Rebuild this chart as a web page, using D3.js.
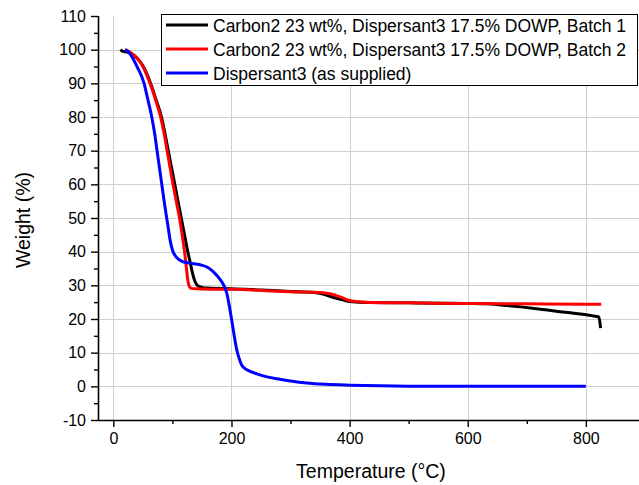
<!DOCTYPE html>
<html>
<head>
<meta charset="utf-8">
<script src="https://cdn.jsdelivr.net/npm/d3@7"></script>
<style>
  html, body { margin: 0; padding: 0; background: #fff; }
  svg { display: block; font-family: Arial, "Liberation Sans", sans-serif; }
</style>
</head>
<body>
<svg id="chart" width="639" height="485"></svg>
<script>
// ---------- data ----------
const seriesNames = [
  "Carbon2 23 wt%, Dispersant3 17.5% DOWP, Batch 1",
  "Carbon2 23 wt%, Dispersant3 17.5% DOWP, Batch 2",
  "Dispersant3 (as supplied)"
];
const seriesColors = ["#000000", "#ff0000", "#0000ff"];

const tBatch1 = [12, 15, 20, 30, 40, 50, 63, 72, 81.5, 87.5, 93, 98.5, 104, 109.5, 115, 120.5, 126, 130.5, 134, 138, 142, 146, 152, 160, 200, 250, 300, 340, 355, 373, 390, 405, 430, 500, 600, 632, 660, 690, 720, 750, 780, 810, 822, 825];
const wBatch1 = [100, 99.6, 99.4, 98.9, 97.5, 95.2, 90, 85.3, 80, 75, 70, 65, 60, 55, 50, 45, 40, 36.5, 33.6, 31.2, 30, 29.6, 29.3, 29.2, 29, 28.6, 28.2, 27.9, 27.4, 26.4, 25.6, 25.1, 24.9, 24.8, 24.6, 24.5, 24.1, 23.6, 23, 22.3, 21.7, 21, 20.6, 17.3];

const tBatch2 = [20, 25, 30, 40, 50, 62, 71, 80, 86, 91, 96, 101, 106.5, 112, 116.5, 120.5, 123.5, 126, 128, 129.5, 132, 140, 150, 200, 250, 300, 350, 367, 385, 400, 415, 440, 500, 600, 700, 800, 826];
const wBatch2 = [100, 99.6, 99, 97.5, 95, 90, 85.3, 80, 75, 70, 65, 60, 55, 50, 45, 40, 35.5, 31.6, 30, 29.4, 29.1, 29, 28.9, 28.8, 28.5, 28.1, 27.9, 27.5, 26.5, 25.5, 25.1, 24.9, 24.8, 24.6, 24.5, 24.4, 24.4];

const tDisp = [20, 25, 30, 40, 52, 58, 65, 70, 74, 78, 82, 86, 89, 93, 96, 100, 104, 110, 118, 130, 147, 160, 169, 176, 183, 188, 192, 197.5, 203, 209, 213, 217, 222, 226, 235, 243, 260, 282, 300, 327, 360, 400, 452, 500, 600, 700, 800];
const wDisp = [100, 99.4, 98.3, 95, 90, 85.5, 80, 75, 70, 65, 60, 55, 51.5, 47, 43.5, 40.5, 39, 37.8, 37, 36.6, 36.1, 35.3, 34.1, 32.8, 31.2, 29.6, 27.7, 22.7, 16.8, 10.8, 8.3, 6.4, 5.4, 4.9, 4.2, 3.7, 2.8, 2.1, 1.6, 1.0, 0.6, 0.35, 0.15, 0.05, 0, 0, 0];

const xMajorTicks = [0, 200, 400, 600, 800];
const xMinorTicks = [100, 300, 500, 700];
const yMajorTicks = [-10, 0, 10, 20, 30, 40, 50, 60, 70, 80, 90, 100, 110];
const yMinorTicks = [-5, 5, 15, 25, 35, 45, 55, 65, 75, 85, 95, 105];
const yGridTicks = [0, 10, 20, 30, 40, 50, 60, 70, 80, 90, 100];
const xLabel = "Temperature (°C)";
const yLabel = "Weight (%)";

// ---------- layout ----------
const svg = d3.select("#chart");
const pLeft = 98, pRight = 639, pTop = 16, pBottom = 420;

const x = d3.scaleLinear().domain([-26, 890]).range([pLeft, pRight]);
const y = d3.scaleLinear().domain([-10, 110]).range([pBottom, pTop]);

// grid
const grid = svg.append("g").attr("stroke", "#cfcfcf").attr("stroke-width", 1);
grid.selectAll("line.gx").data(xMajorTicks).join("line")
  .attr("x1", d => Math.round(x(d)) + 0.5).attr("x2", d => Math.round(x(d)) + 0.5)
  .attr("y1", pTop).attr("y2", pBottom);
grid.selectAll("line.gy").data(yGridTicks).join("line")
  .attr("x1", pLeft).attr("x2", pRight)
  .attr("y1", d => Math.round(y(d)) + 0.5).attr("y2", d => Math.round(y(d)) + 0.5);

// curves
const line = d3.line()
  .x(d => x(d[0])).y(d => y(d[1]))
  .curve(d3.curveMonotoneX);

const series = [
  d3.zip(tBatch1, wBatch1),
  d3.zip(tBatch2, wBatch2),
  d3.zip(tDisp, wDisp)
];
svg.append("g").selectAll("path").data(series).join("path")
  .attr("d", line)
  .attr("fill", "none")
  .attr("stroke", (d, i) => seriesColors[i])
  .attr("stroke-width", 3)
  .attr("stroke-linejoin", "round")
  .attr("stroke-linecap", "butt");

// axes
const fmt = d => String(d);
const tickFont = "16px";
const xAxis = svg.append("g").attr("transform", `translate(0,${pBottom})`)
  .call(d3.axisBottom(x).tickValues(xMajorTicks).tickSize(7).tickPadding(6).tickFormat(fmt));
xAxis.append("g").call(d3.axisBottom(x).tickValues(xMinorTicks).tickSize(4).tickFormat(""))
  .select(".domain").remove();
const yAxis = svg.append("g").attr("transform", `translate(${pLeft},0)`)
  .call(d3.axisLeft(y).tickValues(yMajorTicks).tickSize(7).tickPadding(5).tickFormat(fmt));
yAxis.append("g").call(d3.axisLeft(y).tickValues(yMinorTicks).tickSize(4).tickFormat(""))
  .select(".domain").remove();

[xAxis, yAxis].forEach(a => {
  a.selectAll(".domain").attr("stroke", "#000").attr("stroke-width", 1.6);
  a.selectAll(".tick line").attr("stroke", "#000").attr("stroke-width", 1.4);
  a.selectAll("text").attr("font-size", tickFont).attr("fill", "#000")
    .attr("font-family", "Arial, 'Liberation Sans', sans-serif");
});
xAxis.select(".domain").attr("d", `M${pLeft},0.5H${pRight}`);
yAxis.select(".domain").attr("d", `M0.5,${pTop}V${pBottom}`);

// axis titles
svg.append("text")
  .attr("x", 371).attr("y", 478)
  .attr("text-anchor", "middle")
  .attr("font-size", "19.5px")
  .text(xLabel);
svg.append("text")
  .attr("transform", "translate(30,220) rotate(-90)")
  .attr("text-anchor", "middle")
  .attr("font-size", "19.5px")
  .text(yLabel);

// legend
const lg = svg.append("g");
lg.append("rect")
  .attr("x", 161.5).attr("y", 14.5).attr("width", 476).attr("height", 71)
  .attr("fill", "#fff").attr("stroke", "#000").attr("stroke-width", 1);
const rows = lg.selectAll("g.row").data(seriesNames).join("g")
  .attr("transform", (d, i) => `translate(0,${25 + i * 24})`);
rows.append("line")
  .attr("x1", 166).attr("x2", 208).attr("y1", 0).attr("y2", 0)
  .attr("stroke", (d, i) => seriesColors[i]).attr("stroke-width", 3);
rows.append("text")
  .attr("x", 213).attr("y", 6.5)
  .attr("font-size", "17.5px")
  .text(d => d);
</script>
</body>
</html>
